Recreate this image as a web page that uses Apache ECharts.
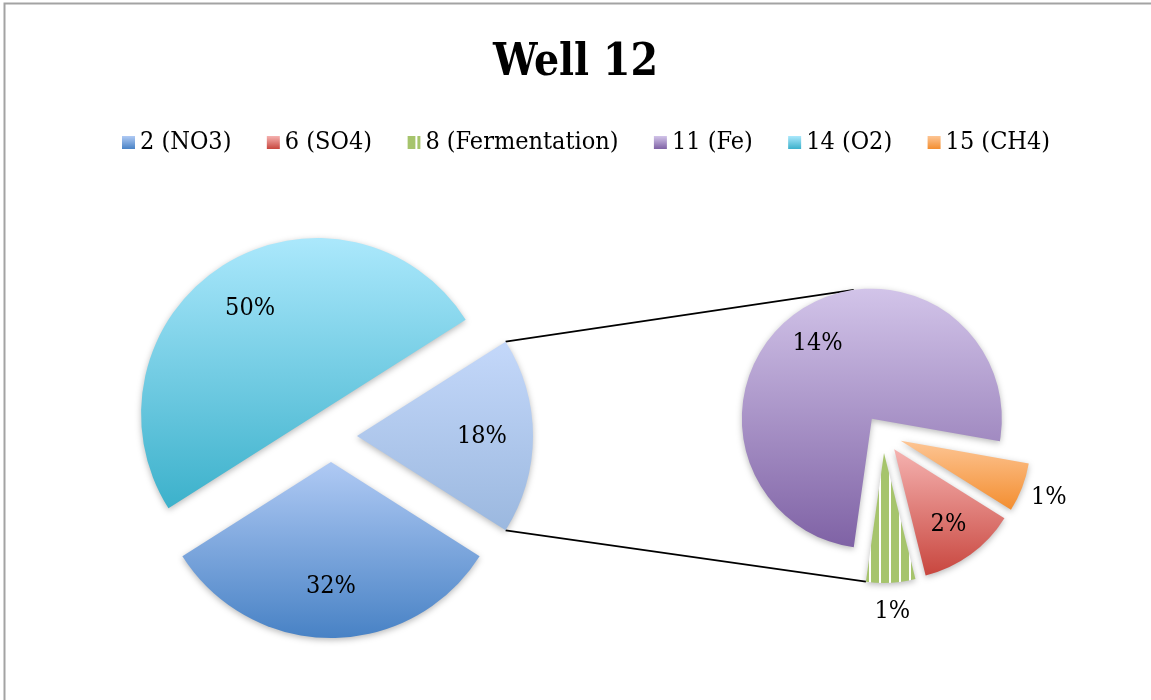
<!DOCTYPE html>
<html><head><meta charset="utf-8">
<script src="https://cdn.jsdelivr.net/npm/echarts@6/dist/echarts.min.js"></script>
<style>html,body{margin:0;padding:0;background:#fff}#c{width:1151px;height:700px}</style>
</head><body><div id="c"></div>
<script>
// ---- data ----
const chartTitle = 'Well 12';
const legendNames = ['2 (NO3)', '6 (SO4)', '8 (Fermentation)', '11 (Fe)', '14 (O2)', '15 (CH4)'];
const mainNames = ['Other', '2 (NO3)', '14 (O2)'];
const mainValues = [18, 32, 50];
const subNames = ['15 (CH4)', '6 (SO4)', '8 (Fermentation)', '11 (Fe)'];
const subValues = [1.1, 2.2, 1.1, 13.6];

// ---- style ----
const FONT = '"DejaVu Serif Condensed", "DejaVu Serif", "Liberation Serif", serif';
const grad = (a, b) => new echarts.graphic.LinearGradient(0, 0, 0, 1, [{offset: 0, color: a}, {offset: 1, color: b}]);
function stripes() {
  const c = document.createElement('canvas'); c.width = 10; c.height = 10;
  const g = c.getContext('2d');
  g.fillStyle = '#a6c46c'; g.fillRect(0, 0, 10, 10);
  g.fillStyle = '#ffffff'; g.fillRect(8, 0, 2, 10);
  return {image: c, repeat: 'repeat'};
}
const colors = {
  'Other': grad('#c4d8fa', '#9bb8df'),
  '2 (NO3)': grad('#b0caf4', '#4882c5'),
  '6 (SO4)': grad('#f5b2b0', '#c8463e'),
  '8 (Fermentation)': stripes(),
  '11 (Fe)': grad('#d2c4e9', '#7f62a5'),
  '14 (O2)': grad('#abe8fc', '#3cb1cb'),
  '15 (CH4)': grad('#fdc594', '#f38e30')
};

const mainTotal = mainValues.reduce((a, b) => a + b, 0);
const subTotal = subValues.reduce((a, b) => a + b, 0);

// layout
const C1 = [331, 436], R1 = 176, D1 = 26;
const C2 = [883, 434], R2 = 130, D2 = 19, SUB_START = -10;
const otherAngle = 360 * mainValues[0] / mainTotal;
const rad = d => d * Math.PI / 180;
const dir = d => [Math.cos(rad(d)), Math.sin(rad(d))];

function mover(C, D, R, values) {
  return function (p) {
    const lr = p.labelRect;
    let dx = lr.x + lr.width / 2 - C[0], dy = lr.y + lr.height / 2 - C[1];
    const L = Math.hypot(dx, dy) || 1; dx /= L; dy /= L;
    const share = values[p.dataIndex] / mainTotal;
    const k = share < 0.015 ? 1.22 : 0.71;
    return {x: C[0] + dx * (D + k * R), y: C[1] + dy * (D + k * R), align: 'center', verticalAlign: 'middle'};
  };
}
const pct = p => Math.round(p.value / mainTotal * 100) + '%';
const labelStyle = {show: true, position: 'inside', formatter: pct, fontFamily: FONT, fontSize: 25, color: '#000'};
const shadow = {borderWidth: 0, shadowBlur: 6, shadowColor: 'rgba(0,0,0,0.28)', shadowOffsetY: 2};

// connector lines computed from the pie geometry
const t1 = [C1[0] + D1, C1[1]];
const l1a = [t1[0] + R1 * Math.cos(rad(otherAngle / 2)), t1[1] - R1 * Math.sin(rad(otherAngle / 2))];
const l1b = [t1[0] + R1 * Math.cos(rad(otherAngle / 2)), t1[1] + R1 * Math.sin(rad(otherAngle / 2))];
const s0 = -SUB_START;
let acc = s0; const sAng = subValues.map(v => { const a = acc; acc += 360 * v / subTotal; return [a, acc]; });
const fi = subNames.indexOf('8 (Fermentation)'), ei = subNames.indexOf('11 (Fe)');
const fMid = (sAng[fi][0] + sAng[fi][1]) / 2, eMid = (sAng[ei][0] + sAng[ei][1]) / 2;
const bEdge = sAng[fi][1];
const fTip = [C2[0] + D2 * dir(fMid)[0], C2[1] + D2 * dir(fMid)[1]];
const eTip = [C2[0] + D2 * dir(eMid)[0], C2[1] + D2 * dir(eMid)[1]];
const l2b = [fTip[0] + R2 * dir(bEdge)[0], fTip[1] + R2 * dir(bEdge)[1]];
const l2a = [eTip[0] + R2 * dir(-bEdge)[0], eTip[1] + R2 * dir(-bEdge)[1]];

function pieSeries(name, C, R, D, start, names, values) {
  return {type: 'pie', name: name, center: C, radius: R, startAngle: start, clockwise: true,
    selectedMode: 'multiple', selectedOffset: D, avoidLabelOverlap: false, emphasis: {disabled: true},
    itemStyle: shadow, label: {show: false}, labelLine: {show: false},
    data: names.map((n, i) => ({name: n, value: values[i], selected: true, itemStyle: {color: colors[n]}}))};
}
// transparent companion series that carries the percentage labels
function labelSeries(name, C, R, D, start, names, values) {
  return {type: 'pie', name: name, center: C, radius: R, startAngle: start, clockwise: true, z: 5,
    silent: true, legendHoverLink: false, avoidLabelOverlap: false, emphasis: {disabled: true},
    itemStyle: {color: 'rgba(0,0,0,0)', borderWidth: 0}, label: labelStyle, labelLine: {show: false},
    labelLayout: mover(C, D, R, values),
    data: names.map((n, i) => ({name: n, value: values[i]}))};
}

const chart = echarts.init(document.getElementById('c'));
chart.setOption({
  animation: false,
  backgroundColor: '#fff',
  title: {text: chartTitle, left: 'center', top: 37,
    textStyle: {fontFamily: FONT, fontSize: 44, fontWeight: 'bold', color: '#000'}},
  legend: {data: legendNames, left: 122, top: 130, padding: 0, icon: 'rect', itemWidth: 13, itemHeight: 13,
    itemGap: 35.4, selectedMode: false, textStyle: {fontFamily: FONT, fontSize: 25, color: '#000'}},
  graphic: [
    {type: 'rect', shape: {x: 4.5, y: 3.5, width: 1300, height: 900}, style: {fill: 'none', stroke: '#a3a3a3', lineWidth: 2}, z: 0},
    {type: 'line', shape: {x1: l1a[0], y1: l1a[1], x2: l2a[0], y2: l2a[1]}, style: {stroke: '#000', lineWidth: 1.8}, z: 1},
    {type: 'line', shape: {x1: l1b[0], y1: l1b[1], x2: l2b[0], y2: l2b[1]}, style: {stroke: '#000', lineWidth: 1.8}, z: 1}
  ],
  series: [
    pieSeries('main', C1, R1, D1, otherAngle / 2, mainNames, mainValues),
    pieSeries('sub', C2, R2, D2, SUB_START, subNames, subValues),
    labelSeries('mainLabels', C1, R1, D1, otherAngle / 2, mainNames, mainValues),
    labelSeries('subLabels', C2, R2, D2, SUB_START, subNames, subValues)
  ]
});
</script>
</body></html>
